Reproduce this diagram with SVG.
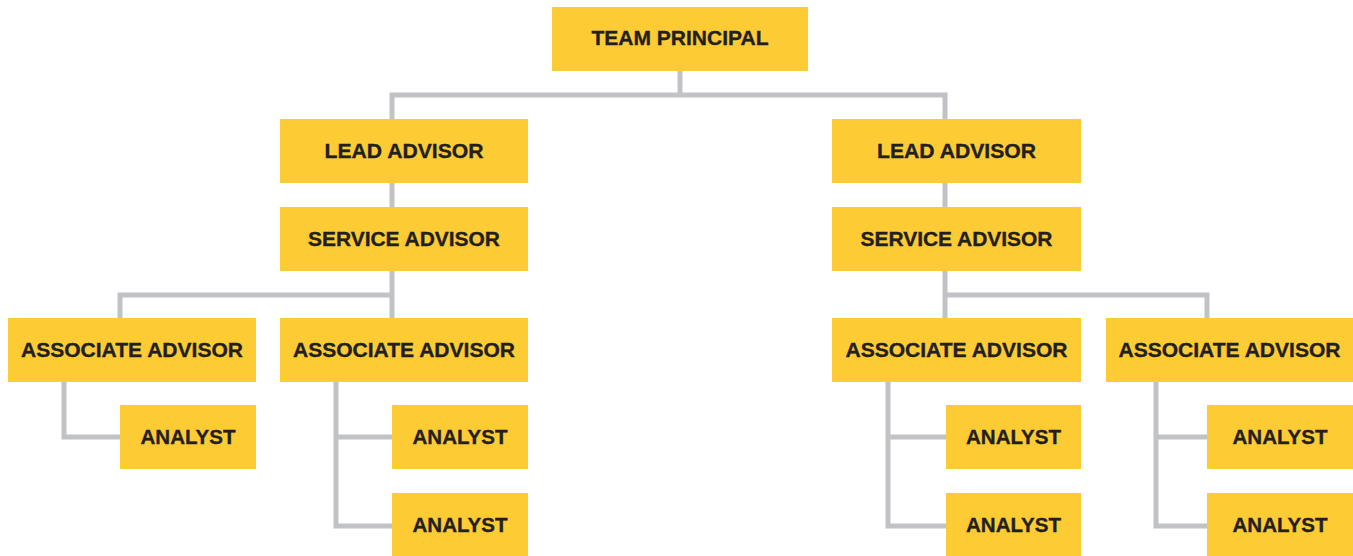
<svg xmlns="http://www.w3.org/2000/svg" width="1353" height="556" viewBox="0 0 1353 556">
<style>
.box{fill:#FDCB33}
.t{font-family:"Liberation Sans",Arial,sans-serif;font-weight:bold;font-size:21px;fill:#231F20;stroke:#231F20;stroke-width:0.35;text-anchor:middle}
.c{fill:none;stroke:#C1C2C6;stroke-width:5;stroke-linejoin:miter;stroke-linecap:butt}
</style>
<rect width="1353" height="556" fill="#ffffff"/>
<g id="connectors">
<path class="c" d="M680,71 V95 M392,119 V95 H945 V119"/>
<path class="c" d="M392,183 V207 M945,183 V207"/>
<path class="c" d="M392,271 V318 M120,318 V295 H392"/>
<path class="c" d="M945,271 V318 M945,295 H1207 V318"/>
<path class="c" d="M64,382 V437 H120"/>
<path class="c" d="M336,382 V526 H392 M336,437 H392"/>
<path class="c" d="M888,382 V526 H946 M888,437 H946"/>
<path class="c" d="M1156,382 V526 H1207 M1156,437 H1207"/>
</g>
<g id="team-principal"><rect class="box" x="552" y="7" width="256" height="64"/><text class="t" x="680" y="44.5" textLength="177" lengthAdjust="spacingAndGlyphs">TEAM PRINCIPAL</text></g>
<g id="lead-advisor-left"><rect class="box" x="280" y="119" width="248" height="64"/><text class="t" x="404" y="157.5" textLength="159" lengthAdjust="spacingAndGlyphs">LEAD ADVISOR</text></g>
<g id="lead-advisor-right"><rect class="box" x="832" y="119" width="249" height="64"/><text class="t" x="956.5" y="157.5" textLength="159" lengthAdjust="spacingAndGlyphs">LEAD ADVISOR</text></g>
<g id="service-advisor-left"><rect class="box" x="280" y="207" width="248" height="64"/><text class="t" x="404" y="245.5" textLength="192" lengthAdjust="spacingAndGlyphs">SERVICE ADVISOR</text></g>
<g id="service-advisor-right"><rect class="box" x="832" y="207" width="249" height="64"/><text class="t" x="956.5" y="245.5" textLength="192" lengthAdjust="spacingAndGlyphs">SERVICE ADVISOR</text></g>
<g id="associate-advisor-1"><rect class="box" x="8" y="318" width="248" height="64"/><text class="t" x="132" y="356.5" textLength="222" lengthAdjust="spacingAndGlyphs">ASSOCIATE ADVISOR</text></g>
<g id="associate-advisor-2"><rect class="box" x="280" y="318" width="248" height="64"/><text class="t" x="404" y="356.5" textLength="222" lengthAdjust="spacingAndGlyphs">ASSOCIATE ADVISOR</text></g>
<g id="associate-advisor-3"><rect class="box" x="832" y="318" width="249" height="64"/><text class="t" x="956.5" y="356.5" textLength="222" lengthAdjust="spacingAndGlyphs">ASSOCIATE ADVISOR</text></g>
<g id="associate-advisor-4"><rect class="box" x="1106" y="318" width="247" height="64"/><text class="t" x="1229.5" y="356.5" textLength="222" lengthAdjust="spacingAndGlyphs">ASSOCIATE ADVISOR</text></g>
<g id="analyst-1"><rect class="box" x="120" y="405" width="136" height="64"/><text class="t" x="188" y="443.5" textLength="95" lengthAdjust="spacingAndGlyphs">ANALYST</text></g>
<g id="analyst-2"><rect class="box" x="392" y="405" width="136" height="64"/><text class="t" x="460" y="443.5" textLength="95" lengthAdjust="spacingAndGlyphs">ANALYST</text></g>
<g id="analyst-3"><rect class="box" x="392" y="493" width="136" height="64"/><text class="t" x="460" y="531.5" textLength="95" lengthAdjust="spacingAndGlyphs">ANALYST</text></g>
<g id="analyst-4"><rect class="box" x="946" y="405" width="135" height="64"/><text class="t" x="1013.5" y="443.5" textLength="95" lengthAdjust="spacingAndGlyphs">ANALYST</text></g>
<g id="analyst-5"><rect class="box" x="946" y="493" width="135" height="64"/><text class="t" x="1013.5" y="531.5" textLength="95" lengthAdjust="spacingAndGlyphs">ANALYST</text></g>
<g id="analyst-6"><rect class="box" x="1207" y="405" width="146" height="64"/><text class="t" x="1280" y="443.5" textLength="95" lengthAdjust="spacingAndGlyphs">ANALYST</text></g>
<g id="analyst-7"><rect class="box" x="1207" y="493" width="146" height="64"/><text class="t" x="1280" y="531.5" textLength="95" lengthAdjust="spacingAndGlyphs">ANALYST</text></g>
</svg>
